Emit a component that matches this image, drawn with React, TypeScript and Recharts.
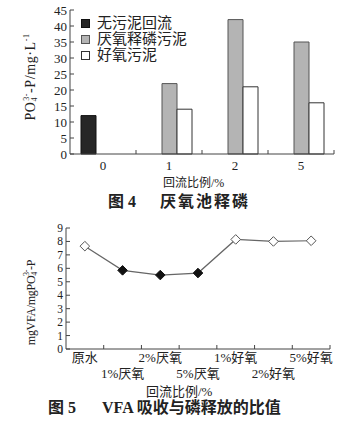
import React from 'react';
import { BarChart, Bar, XAxis, YAxis, LineChart, Line } from 'recharts';

// ---- Figure 4 data ----
const ratioCats = ['0', '1', '2', '5'];
const noReturnSludge = [12, null, null, null];
const anaerobicSludge = [null, 22, 42, 35];
const aerobicSludge = [null, 14, 21, 16];
const fig4Ticks = [0, 5, 10, 15, 20, 25, 30, 35, 40, 45];

// ---- Figure 5 data ----
const vfaCats = ['原水', '1%厌氧', '2%厌氧', '5%厌氧', '1%好氧', '2%好氧', '5%好氧'];
const vfaRatio = [7.65, 5.85, 5.5, 5.65, 8.15, 8.0, 8.05];
const vfaFilled = [false, true, true, true, false, false, false];
const fig5Ticks = [0, 1, 2, 3, 4, 5, 6, 7, 8, 9];

const fig4Data = ratioCats.map((c, i) => ({
  cat: c,
  none: noReturnSludge[i],
  ana: anaerobicSludge[i],
  aer: aerobicSludge[i],
}));
const fig5Data = vfaCats.map((c, i) => ({ cat: c, v: vfaRatio[i], filled: vfaFilled[i] }));

const FONT = '"Liberation Serif", "Noto Sans CJK SC", serif';
const INK = '#222';
const AXIS = '#444';

const YTick = (props: any) => {
  const { x, y, payload, fs = 13 } = props;
  return (
    <g>
      <line x1={x} x2={x + 4} y1={y} y2={y} stroke={AXIS} strokeWidth={1} />
      <text x={x - 3} y={y} dy={fs * 0.35} textAnchor="end" fontSize={fs} fontFamily={FONT} fill={INK}>
        {payload.value}
      </text>
    </g>
  );
};

const XTick4 = (props: any) => {
  const { x, y, payload } = props;
  const off = payload.offset ?? 33;
  return (
    <g>
      <line x1={x + off} x2={x + off} y1={y} y2={y - 4} stroke={AXIS} strokeWidth={1} />
      <text x={x} y={y} dy={16} textAnchor="middle" fontSize={13} fontFamily={FONT} fill={INK}>
        {payload.value}
      </text>
    </g>
  );
};

const XTick5 = (props: any) => {
  const { x, y, payload, index } = props;
  const off = payload.offset ?? 18.9;
  const row = index % 2;
  return (
    <g>
      <line x1={x + off} x2={x + off} y1={y} y2={y - 4} stroke={AXIS} strokeWidth={1} />
      <text x={x} y={y} dy={row === 0 ? 13 : 29} textAnchor="middle" fontSize={13} fontFamily={FONT} fill={INK}>
        {payload.value}
      </text>
    </g>
  );
};

const Diamond = (props: any) => {
  const { cx, cy, payload, index } = props;
  if (cx == null || cy == null) return <g key={index} />;
  const r = 4.8;
  const filled = payload && payload.filled;
  return (
    <path
      key={index}
      d={`M${cx},${cy - r}L${cx + r},${cy}L${cx},${cy + r}L${cx - r},${cy}Z`}
      fill={filled ? '#111' : '#fff'}
      stroke={filled ? '#111' : '#555'}
      strokeWidth={1}
    />
  );
};

const Fig4YLabel = (props: any) => {
  const vb = props.viewBox || { x: 0, y: 10, width: 70, height: 144 };
  const cx = 32;
  const cy = vb.y + vb.height / 2 - 5;
  return (
    <text
      x={cx}
      y={cy}
      transform={`rotate(-90 ${cx} ${cy})`}
      textAnchor="middle"
      dominantBaseline="middle"
      fontSize={14}
      letterSpacing={0.6}
      fontFamily={FONT}
      fill={INK}
    >
      PO
      <tspan fontSize={8} dy={3}>4</tspan>
      <tspan fontSize={8} dx={-4} dy={-8}>3-</tspan>
      <tspan dy={5}>-P/mg·L</tspan>
      <tspan fontSize={8} dy={-5}>-1</tspan>
    </text>
  );
};

const Fig5YLabel = (props: any) => {
  const vb = props.viewBox || { x: 0, y: 13, width: 66, height: 121 };
  const cx = 32;
  const cy = vb.y + vb.height / 2 + 14;
  return (
    <text
      x={cx}
      y={cy}
      transform={`rotate(-90 ${cx} ${cy})`}
      textAnchor="middle"
      dominantBaseline="middle"
      fontSize={12}
      letterSpacing={-0.3}
      fontFamily={FONT}
      fill={INK}
    >
      mgVFA/mgPO
      <tspan fontSize={8} dy={3}>4</tspan>
      <tspan fontSize={8} dx={-4} dy={-8}>3-</tspan>
      <tspan dy={5}>-P</tspan>
    </text>
  );
};

const LegendRow = ({ color, stroke, label, top }: any) => (
  <div style={{ position: 'absolute', left: 81, top, height: 16, display: 'flex', alignItems: 'center' }}>
    <div style={{ width: 7, height: 7, background: color, border: `1px solid ${stroke}` }} />
    <span style={{ marginLeft: 7, fontSize: 15, fontFamily: FONT, color: INK, lineHeight: '16px' }}>{label}</span>
  </div>
);

const titleStyle: React.CSSProperties = {
  position: 'absolute',
  fontSize: 16,
  fontWeight: 'bold',
  fontFamily: FONT,
  color: INK,
  lineHeight: '18px',
  whiteSpace: 'pre',
};

export default function App() {
  return (
    <div style={{ position: 'absolute', left: 0, top: 0, width: 363, height: 425, background: '#fff', overflow: 'hidden' }}>
      <div style={{ position: 'absolute', left: 0, top: 0 }}>
        <BarChart
          width={363}
          height={210}
          data={fig4Data}
          margin={{ top: 10, right: 29, bottom: 0, left: 0 }}
          barSize={15}
          barGap={0}
        >
          <XAxis
            dataKey="cat"
            height={56}
            tickSize={0}
            tickMargin={0}
            tick={<XTick4 />}
            stroke={AXIS}
            tickLine={false}
            interval={0}
          />
          <YAxis
            width={70}
            domain={[0, 45]}
            ticks={fig4Ticks}
            tickSize={0}
            tickMargin={0}
            tick={<YTick fs={13} />}
            tickLine={false}
            stroke={AXIS}
            interval={0}
            label={{ content: <Fig4YLabel /> }}
          />
          <Bar dataKey="none" fill="#262626" stroke="#111" strokeWidth={1} isAnimationActive={false} />
          <Bar dataKey="ana" fill="#b4b4b4" stroke="#555" strokeWidth={1} isAnimationActive={false} />
          <Bar dataKey="aer" fill="#ffffff" stroke="#333" strokeWidth={1} isAnimationActive={false} />
        </BarChart>
      </div>
      <LegendRow color="#262626" stroke="#111" label="无污泥回流" top={15} />
      <LegendRow color="#b4b4b4" stroke="#555" label="厌氧释磷污泥" top={31} />
      <LegendRow color="#ffffff" stroke="#333" label="好氧污泥" top={47} />
      <div style={{ position: 'absolute', left: 163, top: 175, fontSize: 12, fontFamily: FONT, color: INK, lineHeight: '16px', whiteSpace: 'nowrap' }}>
        回流比例/%
      </div>
      <div style={{ ...titleStyle, left: 108, top: 193 }}>图 4</div>
      <div style={{ ...titleStyle, left: 160, top: 193, letterSpacing: 2 }}>厌氧池释磷</div>

      <div style={{ position: 'absolute', left: 0, top: 215 }}>
        <LineChart
          width={363}
          height={175}
          data={fig5Data}
          margin={{ top: 13, right: 33, bottom: 0, left: 0 }}
        >
          <XAxis
            dataKey="cat"
            scale="band"
            height={41}
            tickSize={0}
            tickMargin={0}
            tick={<XTick5 />}
            tickLine={false}
            stroke={AXIS}
            interval={0}
          />
          <YAxis
            width={66}
            domain={[0, 9]}
            ticks={fig5Ticks}
            tickSize={0}
            tickMargin={0}
            tick={<YTick fs={11.5} />}
            tickLine={false}
            stroke={AXIS}
            interval={0}
            label={{ content: <Fig5YLabel /> }}
          />
          <Line
            dataKey="v"
            stroke="#666"
            strokeWidth={1.2}
            dot={<Diamond />}
            isAnimationActive={false}
          />
        </LineChart>
      </div>
      <div style={{ position: 'absolute', left: 146, top: 383, fontSize: 13, fontFamily: FONT, color: INK, lineHeight: '17px', whiteSpace: 'nowrap' }}>
        回流比例/%
      </div>
      <div style={{ ...titleStyle, left: 48, top: 399 }}>图 5</div>
      <div style={{ ...titleStyle, left: 102, top: 399 }}>VFA 吸收与磷释放的比值</div>
    </div>
  );
}
